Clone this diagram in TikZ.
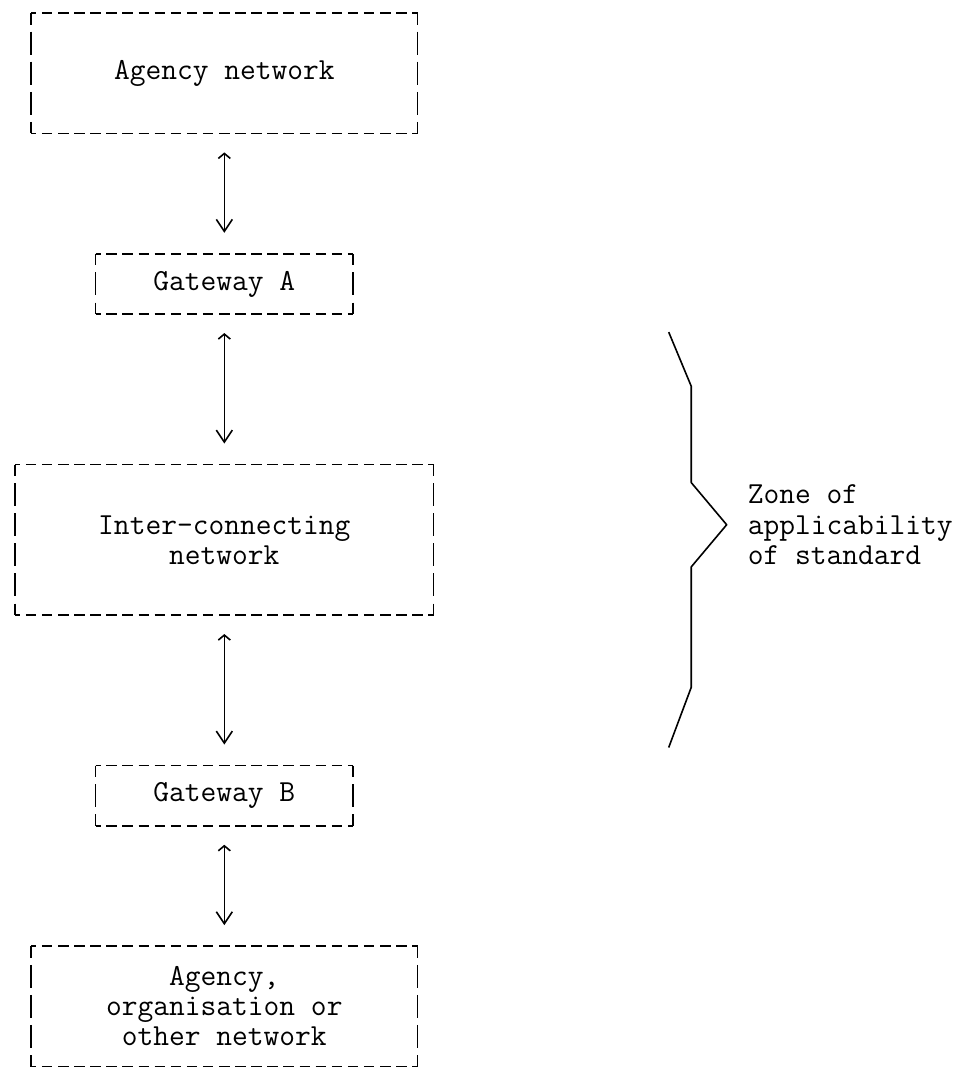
\documentclass[tikz,border=0pt]{standalone}
\usepackage{fontspec}
\usetikzlibrary{arrows.meta}

\tikzset{
  netbox/.style={inner sep=0pt, outer sep=0pt, align=center},
  hedge/.style={line width=1.6pt, dash pattern=on 10.5pt off 5.6pt, dash phase=5.25pt},
  vedge/.style={line width=1.6pt, dash pattern=on 23pt off 7.1pt, dash phase=11.5pt},
  link/.style={line width=1.6pt, {Straight Barb[length=5pt,width=12pt]}-{Straight Barb[length=12pt,width=16pt]}, shorten <=19pt, shorten >=21pt},
  zone/.style={line width=1.6pt, line join=round}
}

\begin{document}
\begin{tikzpicture}[x=16.1pt, y=-30.1pt, font=\ttfamily\fontsize{30.6pt}{30.1pt}\selectfont]
	\useasboundingbox (-0.932,-0.432) rectangle (58.70,35.28);
	\node[netbox, minimum width=386.4pt, minimum height=120.4pt] (agency) at (13,2) {Agency network};
	\node[netbox, minimum width=257.6pt, minimum height=60.2pt] (gwA) at (13,9) {Gateway A};
	\node[netbox, minimum width=418.6pt, minimum height=150.5pt] (inter) at (13,17.5) {Inter-connecting\\network};
	\node[netbox, minimum width=257.6pt, minimum height=60.2pt] (gwB) at (13,26) {Gateway B};
	\node[netbox, minimum width=386.4pt, minimum height=120.4pt] (other) at (13,33) {Agency,\\organisation or\\other network};
	\foreach \b in {agency,gwA,inter,gwB,other} {
		\draw[hedge] (\b.north west) -- (\b.north east) (\b.south west) -- (\b.south east);
		\draw[vedge] (\b.north west) -- (\b.south west) (\b.north east) -- (\b.south east);
	}
	\draw[link] (agency) -- (gwA);
	\draw[link] (gwA) -- (inter);
	\draw[link] (inter) -- (gwB);
	\draw[link] (gwB) -- (other);
	\draw[zone] (40.6,10.6) -- (42,12.4) -- (42,15.6) -- (44.2,17) -- (42,18.4) -- (42,22.4) -- (40.6,24.4);
	\node[inner sep=0pt, align=left, anchor=west] (zonetext) at (45.5,17) {Zone of\\applicability\\of standard};
\end{tikzpicture}
\end{document}
